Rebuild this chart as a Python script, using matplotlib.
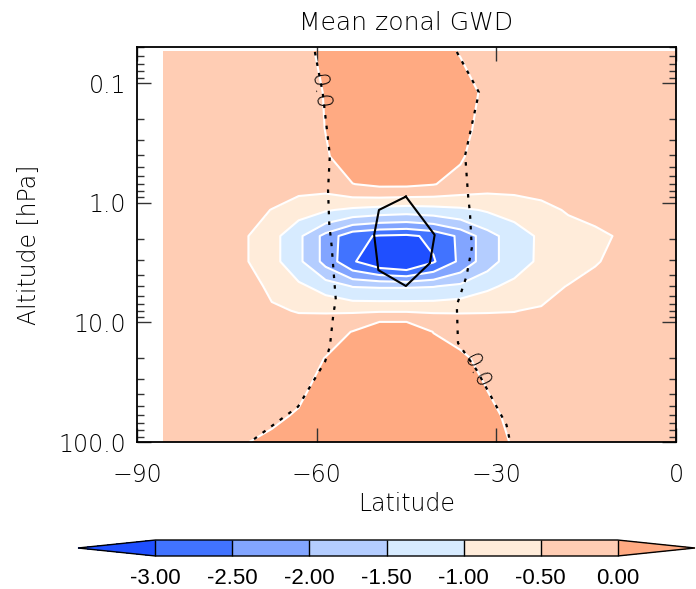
import numpy as np
import matplotlib.pyplot as plt
from matplotlib.colors import ListedColormap, BoundaryNorm
from matplotlib.ticker import LogLocator, NullLocator, NullFormatter

plt.rcParams['font.family'] = ['DejaVu Sans']
plt.rcParams['contour.negative_linestyle'] = 'solid'

# model grid
lat = [-85.5, -81.0, -76.5, -72.0, -67.5, -63.0, -58.5, -54.0, -49.5, -45.0,
       -40.5, -36.0, -31.5, -27.0, -22.5, -18.0, -13.5, -9.0, -4.5, 0.0]
pres = [0.055, 0.12, 0.24, 0.41, 0.70, 1.15, 1.9, 3.1, 5.0, 8.0,
        12.0, 20.0, 35.0, 60.0, 100.0]

# mean zonal gravity wave drag, one row per pressure level
gwd = np.array([
    [-0.25, -0.25, -0.25, -0.25, -0.25, -0.25, 0.17, 0.40, 0.50, 0.50, 0.30, -0.05, -0.25, -0.25, -0.25, -0.25, -0.25, -0.25, -0.25, -0.25],
    [-0.25, -0.25, -0.25, -0.25, -0.25, -0.25, 0.03, 0.40, 0.50, 0.50, 0.50, 0.50, -0.25, -0.25, -0.25, -0.25, -0.25, -0.25, -0.25, -0.25],
    [-0.25, -0.25, -0.25, -0.25, -0.25, -0.25, 0.01, 0.50, 0.50, 0.50, 0.50, 0.20, -0.25, -0.25, -0.25, -0.25, -0.25, -0.25, -0.25, -0.25],
    [-0.25, -0.25, -0.25, -0.25, -0.25, -0.25, -0.05, 0.27, 0.40, 0.40, 0.40, 0.05, -0.25, -0.25, -0.25, -0.25, -0.25, -0.25, -0.25, -0.25],
    [-0.30, -0.30, -0.30, -0.30, -0.30, -0.30, -0.30, -0.01, 0.10, 0.10, 0.02, -0.16, -0.30, -0.30, -0.30, -0.30, -0.30, -0.30, -0.30, -0.30],
    [-0.30, -0.30, -0.30, -0.35, -0.51, -0.80, -0.95, -1.10, -1.20, -1.26, -1.20, -1.10, -0.95, -0.85, -0.65, -0.45, -0.38, -0.33, -0.30, -0.30],
    [-0.30, -0.30, -0.32, -0.45, -0.82, -1.39, -2.17, -2.86, -3.05, -3.10, -2.89, -2.39, -1.71, -1.22, -0.92, -0.76, -0.59, -0.45, -0.36, -0.30],
    [-0.30, -0.30, -0.32, -0.45, -0.82, -1.39, -2.17, -2.94, -3.40, -3.60, -3.05, -2.39, -1.71, -1.22, -0.91, -0.71, -0.52, -0.42, -0.35, -0.30],
    [-0.30, -0.30, -0.30, -0.35, -0.57, -0.89, -1.21, -1.52, -1.55, -1.55, -1.52, -1.38, -1.09, -0.87, -0.67, -0.48, -0.40, -0.35, -0.30, -0.30],
    [-0.30, -0.30, -0.30, -0.35, -0.45, -0.52, -0.53, -0.55, -0.55, -0.55, -0.55, -0.53, -0.52, -0.51, -0.45, -0.38, -0.33, -0.30, -0.30, -0.30],
    [-0.30, -0.30, -0.30, -0.30, -0.30, -0.30, -0.25, 0.02, 0.60, 0.60, -0.02, -0.25, -0.30, -0.30, -0.30, -0.30, -0.30, -0.30, -0.30, -0.30],
    [-0.30, -0.30, -0.30, -0.30, -0.30, -0.30, 0.02, 0.50, 0.60, 0.60, 0.50, 0.15, -0.25, -0.30, -0.30, -0.30, -0.30, -0.30, -0.30, -0.30],
    [-0.30, -0.30, -0.30, -0.30, -0.30, -0.20, 0.30, 0.60, 0.60, 0.60, 0.60, 0.40, -0.02, -0.30, -0.30, -0.30, -0.30, -0.30, -0.30, -0.30],
    [-0.30, -0.30, -0.30, -0.30, -0.20, 0.10, 0.50, 0.60, 0.60, 0.60, 0.60, 0.50, 0.20, -0.20, -0.30, -0.30, -0.30, -0.30, -0.30, -0.30],
    [-0.30, -0.30, -0.30, -0.05, 0.25, 0.50, 0.60, 0.60, 0.60, 0.60, 0.60, 0.50, 0.30, -0.07, -0.30, -0.30, -0.30, -0.30, -0.30, -0.30],
])

levels = [-3.0, -2.5, -2.0, -1.5, -1.0, -0.5, 0.0]
band_colors = ['#4173ff', '#82a5ff', '#b4cdff', '#d7ebff', '#ffecda', '#ffcdb4']
under_color = '#1f4fff'
over_color = '#ffaa82'

# zero line of the wind field (west and east branches)
zero_west_lat = [-60.3, -59.0, -57.8, -58.1, -57.9, -57.5, -57.1, -56.8, -57.2, -57.8, -58.6, -63.1, -71.1]
zero_west_p = [0.055, 0.12, 0.40, 0.78, 1.5, 2.3, 4.2, 6.5, 8.4, 16.0, 21.3, 50.6, 100.0]
zero_east_lat = [-36.6, -32.9, -35.2, -34.7, -34.4, -34.1, -35.0, -36.6, -36.4, -33.3, -28.3, -27.7]
zero_east_p = [0.055, 0.12, 0.40, 0.89, 1.22, 2.4, 4.15, 7.2, 14.9, 25.0, 72.0, 100.0]

# outline of the drag maximum
core_lat = [-45.1, -49.6, -50.4, -49.7, -45.1, -41.1, -40.3, -45.1]
core_p = [0.89, 1.15, 1.86, 3.66, 4.97, 3.2, 1.86, 0.89]

cmap = ListedColormap(band_colors)
cmap.set_under(under_color)
cmap.set_over(over_color)
norm = BoundaryNorm(levels, cmap.N)

fig = plt.figure(figsize=(6.96, 5.89), dpi=100)
ax = fig.add_axes([137 / 696, 1 - 442 / 589, 539 / 696, 395 / 589])
# colorbar axes spans the triangles too
cax = fig.add_axes([78 / 696, 1 - 556 / 589, 617 / 696, 16 / 589])

cf = ax.contourf(lat, pres, gwd, levels=levels, cmap=cmap, norm=norm, extend='both')
ax.contour(lat, pres, gwd, levels=levels, colors='white', linewidths=1.5, linestyles='solid')

ax.plot(zero_west_lat, zero_west_p, color='black', lw=1.6, linestyle=(0, (1.6, 3.2)))
ax.plot(zero_east_lat, zero_east_p, color='black', lw=1.6, linestyle=(0, (1.6, 3.2)))
ax.plot(core_lat, core_p, color='black', lw=1.5)

lab_font = dict(fontsize=16, fontweight='light', ha='center', va='center', rotation_mode='anchor')
ax.text(-59.6, 0.119, '0.0', rotation=-82, **lab_font)
ax.text(-33.4, 25.5, '0.0', rotation=-64, **lab_font)

ax.set_yscale('log')
ax.set_xlim(-90, 0)
ax.set_ylim(100, 0.05)
ax.set_xticks([-90, -60, -30, 0])
ax.xaxis.set_minor_locator(NullLocator())
ax.set_yticks([0.1, 1.0, 10.0, 100.0], ['0.1', '1.0', '10.0', '100.0'])
ax.yaxis.set_minor_locator(LogLocator(base=10, subs=np.arange(2, 10)))
ax.yaxis.set_minor_formatter(NullFormatter())
ax.tick_params(which='both', direction='in', top=True, right=True, color='#333333', width=1.0)
ax.tick_params(which='major', length=10)
ax.tick_params(which='minor', length=5)
ax.tick_params(axis='x', pad=15)
ax.tick_params(axis='y', pad=8)
for lbl in ax.get_xticklabels() + ax.get_yticklabels():
    lbl.set_fontsize(17)
    lbl.set_fontweight('light')
for s in ax.spines.values():
    s.set_linewidth(1.3)

ax.set_title('Mean zonal GWD', fontsize=18, fontweight='light', pad=12)
ax.set_xlabel('Latitude', fontsize=17, fontweight='light', labelpad=4)
ax.set_ylabel('Altitude [hPa]', fontsize=17, fontweight='light', labelpad=12)

cb = fig.colorbar(cf, cax=cax, orientation='horizontal', extendfrac=78 / 465,
                  drawedges=True, ticks=levels)
cb.outline.set_linewidth(1.0)
cb.dividers.set_color('black')
cb.dividers.set_linewidth(1.0)
cb.ax.tick_params(length=0, pad=9)
cb.ax.set_xticklabels(['%.2f' % v for v in levels], fontsize=16, family='Liberation Sans')

fig.savefig('out.png', dpi=100)
